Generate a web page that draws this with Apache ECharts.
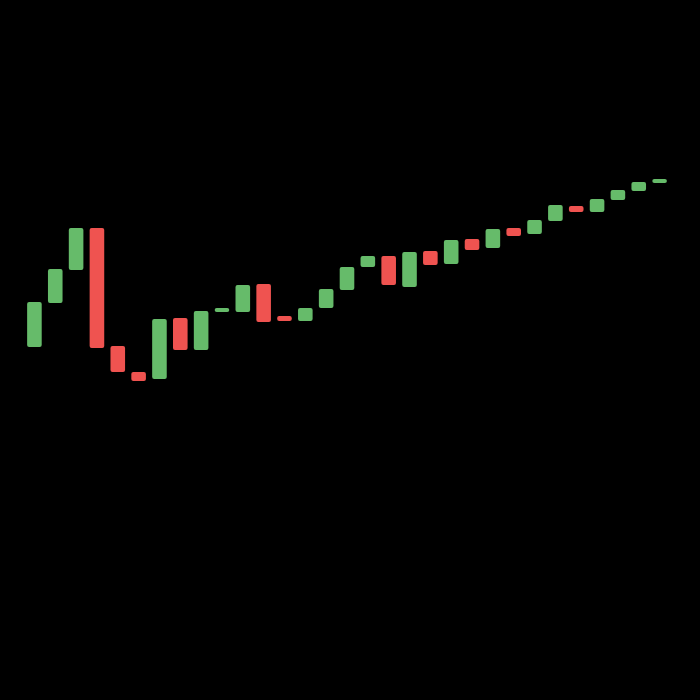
<!DOCTYPE html>
<html lang="en">
	<head>
		<meta charset="UTF-8">
		<title>waterfall candles</title>
	</head>

	<style>
		html, body {
			margin: 0;
			padding: 0;
			background: #000;
		}
		.chart {
			width: 700px;
			height: 700px;
		}
	</style>

	<body>
		<div id='echarts' class="chart"></div>
	</body>

	<script type="text/javascript" src="https://cdn.jsdelivr.net/npm/echarts@6/dist/echarts.min.js"></script>
	<script>
		var categories = ['1','2','3','4','5','6','7','8','9','10',
			'11','12','13','14','15','16','17','18','19','20',
			'21','22','23','24','25','26','27','28','29','30','31']
		var openList = [176.5, 198.5, 215, 236, 177, 164, 160.5, 191, 175, 194,
			194, 208, 192, 189.5, 196, 205, 216.5, 222, 206.5, 224.5,
			218, 230.5, 226, 236, 233, 239.5, 247, 244, 250, 254.5, 258.5]
		var closeList = [199, 215.5, 236, 176, 164, 159.5, 190.5, 175, 194.5, 196,
			207.5, 189, 189.5, 196, 205.5, 216.5, 222, 207.5, 224, 217.5,
			230, 225, 235.5, 232, 240, 247.5, 244, 250.5, 255, 259, 260.5]

		var upColor = '#66bb6a'
		var downColor = '#ef5350'

		var baseData = []
		var bodyData = []
		for (var i = 0; i < categories.length; i++) {
			var o = openList[i]
			var c = closeList[i]
			baseData.push(Math.min(o, c))
			bodyData.push({
				value: Math.abs(c - o),
				itemStyle: { color: c >= o ? upColor : downColor }
			})
		}

		var myChart = echarts.init(document.getElementById('echarts'))
		var option = {
			backgroundColor: '#000',
			animation: false,
			grid: {
				left: 24,
				right: 30,
				top: 0,
				bottom: 0
			},
			xAxis: {
				type: 'category',
				data: categories,
				show: false
			},
			yAxis: {
				type: 'value',
				min: 0,
				max: 350,
				show: false
			},
			series: [
				{
					name: 'base',
					type: 'bar',
					stack: 'wf',
					barWidth: '70%',
					itemStyle: { color: 'transparent' },
					data: baseData
				},
				{
					name: 'change',
					type: 'bar',
					stack: 'wf',
					barWidth: '70%',
					itemStyle: { borderRadius: 2 },
					data: bodyData
				}
			]
		}
		myChart.setOption(option)
	</script>
</html>
